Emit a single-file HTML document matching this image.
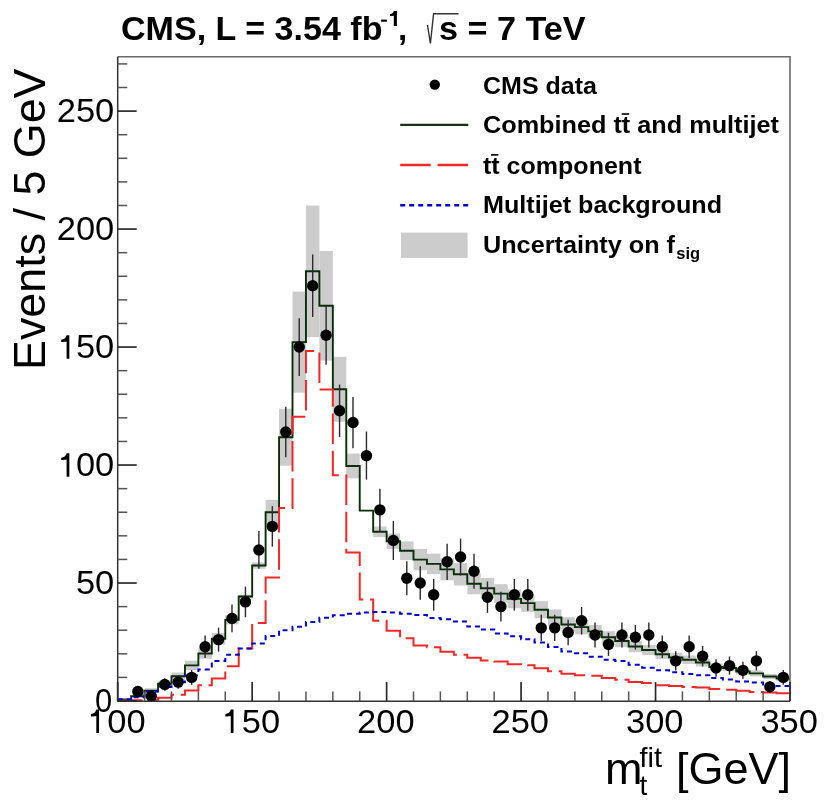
<!DOCTYPE html><html><head><meta charset="utf-8"><style>html,body{margin:0;padding:0;background:#fff;}svg{display:block;}text{font-family:"Liberation Sans",sans-serif;}svg{-webkit-font-smoothing:antialiased;will-change:transform;} .tl{}</style></head><body>
<svg width="840" height="806" viewBox="0 0 840 806">
<rect width="840" height="806" fill="#fff"/>
<rect x="117.70" y="698.99" width="13.45" height="0.71" fill="#cccccc"/>
<rect x="131.15" y="695.37" width="13.45" height="1.82" fill="#cccccc"/>
<rect x="144.59" y="688.20" width="13.45" height="4.84" fill="#cccccc"/>
<rect x="158.04" y="680.60" width="13.45" height="6.35" fill="#cccccc"/>
<rect x="171.48" y="672.47" width="13.45" height="7.51" fill="#cccccc"/>
<rect x="184.93" y="660.72" width="13.45" height="9.30" fill="#cccccc"/>
<rect x="198.38" y="648.47" width="13.45" height="10.21" fill="#cccccc"/>
<rect x="211.82" y="632.90" width="13.45" height="11.62" fill="#cccccc"/>
<rect x="225.27" y="615.29" width="13.45" height="9.08" fill="#cccccc"/>
<rect x="238.71" y="594.63" width="13.45" height="3.67" fill="#cccccc"/>
<rect x="252.16" y="562.37" width="13.45" height="6.37" fill="#cccccc"/>
<rect x="265.61" y="499.75" width="13.45" height="24.96" fill="#cccccc"/>
<rect x="279.05" y="408.73" width="13.45" height="56.93" fill="#cccccc"/>
<rect x="292.50" y="291.55" width="13.45" height="101.12" fill="#cccccc"/>
<rect x="305.94" y="205.52" width="13.45" height="131.60" fill="#cccccc"/>
<rect x="319.39" y="250.92" width="13.45" height="109.69" fill="#cccccc"/>
<rect x="332.84" y="356.81" width="13.45" height="64.97" fill="#cccccc"/>
<rect x="346.28" y="453.56" width="13.45" height="24.84" fill="#cccccc"/>
<rect x="359.73" y="510.38" width="13.45" height="0.39" fill="#cccccc"/>
<rect x="373.17" y="526.50" width="13.45" height="10.63" fill="#cccccc"/>
<rect x="386.62" y="533.57" width="13.45" height="15.37" fill="#cccccc"/>
<rect x="400.07" y="541.44" width="13.45" height="18.52" fill="#cccccc"/>
<rect x="413.51" y="548.96" width="13.45" height="21.40" fill="#cccccc"/>
<rect x="426.96" y="553.60" width="13.45" height="20.61" fill="#cccccc"/>
<rect x="440.40" y="558.30" width="13.45" height="22.06" fill="#cccccc"/>
<rect x="453.85" y="563.09" width="13.45" height="22.39" fill="#cccccc"/>
<rect x="467.30" y="573.18" width="13.45" height="21.09" fill="#cccccc"/>
<rect x="480.74" y="577.89" width="13.45" height="20.64" fill="#cccccc"/>
<rect x="494.19" y="584.18" width="13.45" height="18.92" fill="#cccccc"/>
<rect x="507.63" y="589.53" width="13.45" height="18.61" fill="#cccccc"/>
<rect x="521.08" y="594.29" width="13.45" height="17.57" fill="#cccccc"/>
<rect x="534.53" y="601.13" width="13.45" height="17.10" fill="#cccccc"/>
<rect x="547.97" y="609.43" width="13.45" height="16.07" fill="#cccccc"/>
<rect x="561.42" y="617.21" width="13.45" height="14.69" fill="#cccccc"/>
<rect x="574.86" y="619.93" width="13.45" height="14.44" fill="#cccccc"/>
<rect x="588.31" y="625.01" width="13.45" height="12.77" fill="#cccccc"/>
<rect x="601.76" y="631.19" width="13.45" height="12.20" fill="#cccccc"/>
<rect x="615.20" y="634.89" width="13.45" height="12.36" fill="#cccccc"/>
<rect x="628.65" y="640.81" width="13.45" height="11.38" fill="#cccccc"/>
<rect x="642.09" y="644.99" width="13.45" height="10.09" fill="#cccccc"/>
<rect x="655.54" y="649.45" width="13.45" height="9.67" fill="#cccccc"/>
<rect x="668.99" y="652.88" width="13.45" height="8.94" fill="#cccccc"/>
<rect x="682.43" y="655.48" width="13.45" height="8.45" fill="#cccccc"/>
<rect x="695.88" y="658.54" width="13.45" height="8.01" fill="#cccccc"/>
<rect x="709.32" y="663.48" width="13.45" height="7.09" fill="#cccccc"/>
<rect x="722.77" y="664.65" width="13.45" height="6.63" fill="#cccccc"/>
<rect x="736.22" y="668.43" width="13.45" height="6.14" fill="#cccccc"/>
<rect x="749.66" y="670.36" width="13.45" height="6.06" fill="#cccccc"/>
<rect x="763.11" y="673.85" width="13.45" height="5.21" fill="#cccccc"/>
<rect x="776.55" y="676.21" width="13.45" height="4.76" fill="#cccccc"/>
<path d="M117.70,699.35 L131.15,699.35 L131.15,696.28 L144.59,696.28 L144.59,690.62 L158.04,690.62 L158.04,683.77 L171.48,683.77 L171.48,676.22 L184.93,676.22 L184.93,665.37 L198.38,665.37 L198.38,653.57 L211.82,653.57 L211.82,638.71 L225.27,638.71 L225.27,619.83 L238.71,619.83 L238.71,596.47 L252.16,596.47 L252.16,565.56 L265.61,565.56 L265.61,512.23 L279.05,512.23 L279.05,437.20 L292.50,437.20 L292.50,342.10 L305.94,342.10 L305.94,271.32 L319.39,271.32 L319.39,305.77 L332.84,305.77 L332.84,389.30 L346.28,389.30 L346.28,465.98 L359.73,465.98 L359.73,510.58 L373.17,510.58 L373.17,531.82 L386.62,531.82 L386.62,541.26 L400.07,541.26 L400.07,550.69 L413.51,550.69 L413.51,559.66 L426.96,559.66 L426.96,563.91 L440.40,563.91 L440.40,569.33 L453.85,569.33 L453.85,574.29 L467.30,574.29 L467.30,583.73 L480.74,583.73 L480.74,588.21 L494.19,588.21 L494.19,593.64 L507.63,593.64 L507.63,598.83 L521.08,598.83 L521.08,603.08 L534.53,603.08 L534.53,609.68 L547.97,609.68 L547.97,617.47 L561.42,617.47 L561.42,624.55 L574.86,624.55 L574.86,627.14 L588.31,627.14 L588.31,631.39 L601.76,631.39 L601.76,637.29 L615.20,637.29 L615.20,641.07 L628.65,641.07 L628.65,646.49 L642.09,646.49 L642.09,650.03 L655.54,650.03 L655.54,654.28 L668.99,654.28 L668.99,657.35 L682.43,657.35 L682.43,659.71 L695.88,659.71 L695.88,662.54 L709.32,662.54 L709.32,667.02 L722.77,667.02 L722.77,667.97 L736.22,667.97 L736.22,671.50 L749.66,671.50 L749.66,673.39 L763.11,673.39 L763.11,676.46 L776.55,676.46 L776.55,678.58 L790.00,678.58" fill="none" stroke="#0a2e0a" stroke-width="1.9"/>
<path d="M117.70,700.53 L131.15,700.53 L131.15,700.29 L144.59,700.29 L144.59,699.82 L158.04,699.82 L158.04,697.70 L171.48,697.70 L171.48,694.63 L184.93,694.63 L184.93,690.38 L198.38,690.38 L198.38,685.19 L211.82,685.19 L211.82,678.58 L225.27,678.58 L225.27,666.31 L238.71,666.31 L238.71,648.38 L252.16,648.38 L252.16,622.90 L265.61,622.90 L265.61,577.59 L279.05,577.59 L279.05,507.98 L292.50,507.98 L292.50,416.67 L305.94,416.67 L305.94,351.07 L319.39,351.07 L319.39,389.53 L332.84,389.53 L332.84,475.19 L346.28,475.19 L346.28,552.58 L359.73,552.58 L359.73,599.54 L373.17,599.54 L373.17,620.77 L386.62,620.77 L386.62,630.68 L400.07,630.68 L400.07,638.23 L413.51,638.23 L413.51,645.55 L426.96,645.55 L426.96,647.20 L440.40,647.20 L440.40,651.68 L453.85,651.68 L453.85,654.75 L467.30,654.75 L467.30,657.82 L480.74,657.82 L480.74,660.41 L494.19,660.41 L494.19,661.59 L507.63,661.59 L507.63,664.19 L521.08,664.19 L521.08,665.37 L534.53,665.37 L534.53,668.20 L547.97,668.20 L547.97,671.27 L561.42,671.27 L561.42,673.63 L574.86,673.63 L574.86,675.28 L588.31,675.28 L588.31,675.75 L601.76,675.75 L601.76,678.11 L615.20,678.11 L615.20,679.76 L628.65,679.76 L628.65,682.12 L642.09,682.12 L642.09,683.07 L655.54,683.07 L655.54,685.19 L668.99,685.19 L668.99,685.90 L682.43,685.90 L682.43,687.08 L695.88,687.08 L695.88,687.55 L709.32,687.55 L709.32,688.97 L722.77,688.97 L722.77,689.67 L736.22,689.67 L736.22,690.85 L749.66,690.85 L749.66,692.03 L763.11,692.03 L763.11,692.51 L776.55,692.51 L776.55,693.21 L790.00,693.21" fill="none" stroke="#f02828" stroke-width="2" stroke-dasharray="30.5,6.7" stroke-dashoffset="5.4"/>
<path d="M117.70,699.35 L131.15,699.35 L131.15,697.22 L144.59,697.22 L144.59,691.56 L158.04,691.56 L158.04,687.08 L171.48,687.08 L171.48,682.36 L184.93,682.36 L184.93,675.52 L198.38,675.52 L198.38,669.38 L211.82,669.38 L211.82,661.12 L225.27,661.12 L225.27,654.75 L238.71,654.75 L238.71,648.38 L252.16,648.38 L252.16,643.43 L265.61,643.43 L265.61,635.88 L279.05,635.88 L279.05,630.21 L292.50,630.21 L292.50,626.67 L305.94,626.67 L305.94,621.95 L319.39,621.95 L319.39,617.71 L332.84,617.71 L332.84,615.35 L346.28,615.35 L346.28,613.69 L359.73,613.69 L359.73,612.51 L373.17,612.51 L373.17,612.04 L386.62,612.04 L386.62,612.51 L400.07,612.51 L400.07,613.69 L413.51,613.69 L413.51,615.11 L426.96,615.11 L426.96,617.94 L440.40,617.94 L440.40,619.36 L453.85,619.36 L453.85,621.48 L467.30,621.48 L467.30,626.44 L480.74,626.44 L480.74,629.50 L494.19,629.50 L494.19,633.52 L507.63,633.52 L507.63,636.35 L521.08,636.35 L521.08,639.18 L534.53,639.18 L534.53,642.48 L547.97,642.48 L547.97,646.97 L561.42,646.97 L561.42,651.45 L574.86,651.45 L574.86,653.34 L588.31,653.34 L588.31,656.64 L601.76,656.64 L601.76,659.71 L615.20,659.71 L615.20,660.89 L628.65,660.89 L628.65,664.66 L642.09,664.66 L642.09,667.73 L655.54,667.73 L655.54,670.33 L668.99,670.33 L668.99,672.21 L682.43,672.21 L682.43,674.10 L695.88,674.10 L695.88,675.28 L709.32,675.28 L709.32,678.11 L722.77,678.11 L722.77,679.53 L736.22,679.53 L736.22,681.42 L749.66,681.42 L749.66,682.60 L763.11,682.60 L763.11,684.48 L776.55,684.48 L776.55,685.90 L790.00,685.90" fill="none" stroke="#0000d0" stroke-width="2" stroke-dasharray="5,4"/>
<line x1="137.87" y1="686.84" x2="137.87" y2="696.28" stroke="#2a2a2a" stroke-width="1.4"/>
<circle cx="137.87" cy="691.56" r="5.7" fill="#000"/>
<line x1="151.31" y1="692.94" x2="151.31" y2="699.62" stroke="#2a2a2a" stroke-width="1.4"/>
<circle cx="151.31" cy="696.28" r="5.7" fill="#000"/>
<line x1="164.76" y1="678.24" x2="164.76" y2="690.73" stroke="#2a2a2a" stroke-width="1.4"/>
<circle cx="164.76" cy="684.48" r="5.7" fill="#000"/>
<line x1="178.21" y1="675.45" x2="178.21" y2="688.80" stroke="#2a2a2a" stroke-width="1.4"/>
<circle cx="178.21" cy="682.12" r="5.7" fill="#000"/>
<line x1="191.65" y1="669.94" x2="191.65" y2="684.87" stroke="#2a2a2a" stroke-width="1.4"/>
<circle cx="191.65" cy="677.40" r="5.7" fill="#000"/>
<line x1="205.10" y1="635.41" x2="205.10" y2="658.05" stroke="#2a2a2a" stroke-width="1.4"/>
<circle cx="205.10" cy="646.73" r="5.7" fill="#000"/>
<line x1="218.55" y1="627.62" x2="218.55" y2="651.68" stroke="#2a2a2a" stroke-width="1.4"/>
<circle cx="218.55" cy="639.65" r="5.7" fill="#000"/>
<line x1="231.99" y1="604.45" x2="231.99" y2="632.37" stroke="#2a2a2a" stroke-width="1.4"/>
<circle cx="231.99" cy="618.41" r="5.7" fill="#000"/>
<line x1="245.44" y1="586.60" x2="245.44" y2="617.19" stroke="#2a2a2a" stroke-width="1.4"/>
<circle cx="245.44" cy="601.90" r="5.7" fill="#000"/>
<line x1="258.88" y1="531.11" x2="258.88" y2="568.86" stroke="#2a2a2a" stroke-width="1.4"/>
<circle cx="258.88" cy="549.99" r="5.7" fill="#000"/>
<line x1="272.33" y1="506.09" x2="272.33" y2="546.69" stroke="#2a2a2a" stroke-width="1.4"/>
<circle cx="272.33" cy="526.39" r="5.7" fill="#000"/>
<line x1="285.77" y1="406.81" x2="285.77" y2="457.20" stroke="#2a2a2a" stroke-width="1.4"/>
<circle cx="285.77" cy="432.01" r="5.7" fill="#000"/>
<line x1="299.22" y1="318.16" x2="299.22" y2="375.96" stroke="#2a2a2a" stroke-width="1.4"/>
<circle cx="299.22" cy="347.06" r="5.7" fill="#000"/>
<line x1="312.67" y1="254.41" x2="312.67" y2="317.01" stroke="#2a2a2a" stroke-width="1.4"/>
<circle cx="312.67" cy="285.71" r="5.7" fill="#000"/>
<line x1="326.11" y1="305.89" x2="326.11" y2="364.64" stroke="#2a2a2a" stroke-width="1.4"/>
<circle cx="326.11" cy="335.26" r="5.7" fill="#000"/>
<line x1="339.56" y1="384.60" x2="339.56" y2="436.94" stroke="#2a2a2a" stroke-width="1.4"/>
<circle cx="339.56" cy="410.77" r="5.7" fill="#000"/>
<line x1="353.00" y1="396.94" x2="353.00" y2="448.20" stroke="#2a2a2a" stroke-width="1.4"/>
<circle cx="353.00" cy="422.57" r="5.7" fill="#000"/>
<line x1="366.45" y1="431.54" x2="366.45" y2="479.66" stroke="#2a2a2a" stroke-width="1.4"/>
<circle cx="366.45" cy="455.60" r="5.7" fill="#000"/>
<line x1="379.90" y1="488.64" x2="379.90" y2="531.11" stroke="#2a2a2a" stroke-width="1.4"/>
<circle cx="379.90" cy="509.87" r="5.7" fill="#000"/>
<line x1="393.34" y1="521.09" x2="393.34" y2="560.00" stroke="#2a2a2a" stroke-width="1.4"/>
<circle cx="393.34" cy="540.55" r="5.7" fill="#000"/>
<line x1="406.79" y1="561.29" x2="406.79" y2="595.32" stroke="#2a2a2a" stroke-width="1.4"/>
<circle cx="406.79" cy="578.30" r="5.7" fill="#000"/>
<line x1="420.24" y1="566.34" x2="420.24" y2="599.70" stroke="#2a2a2a" stroke-width="1.4"/>
<circle cx="420.24" cy="583.02" r="5.7" fill="#000"/>
<line x1="433.68" y1="578.99" x2="433.68" y2="610.65" stroke="#2a2a2a" stroke-width="1.4"/>
<circle cx="433.68" cy="594.82" r="5.7" fill="#000"/>
<line x1="447.13" y1="543.66" x2="447.13" y2="579.91" stroke="#2a2a2a" stroke-width="1.4"/>
<circle cx="447.13" cy="561.78" r="5.7" fill="#000"/>
<line x1="460.57" y1="538.64" x2="460.57" y2="575.49" stroke="#2a2a2a" stroke-width="1.4"/>
<circle cx="460.57" cy="557.06" r="5.7" fill="#000"/>
<line x1="474.02" y1="553.72" x2="474.02" y2="588.72" stroke="#2a2a2a" stroke-width="1.4"/>
<circle cx="474.02" cy="571.22" r="5.7" fill="#000"/>
<line x1="487.46" y1="581.53" x2="487.46" y2="612.83" stroke="#2a2a2a" stroke-width="1.4"/>
<circle cx="487.46" cy="597.18" r="5.7" fill="#000"/>
<line x1="500.91" y1="591.69" x2="500.91" y2="621.54" stroke="#2a2a2a" stroke-width="1.4"/>
<circle cx="500.91" cy="606.62" r="5.7" fill="#000"/>
<line x1="514.36" y1="578.99" x2="514.36" y2="610.65" stroke="#2a2a2a" stroke-width="1.4"/>
<circle cx="514.36" cy="594.82" r="5.7" fill="#000"/>
<line x1="527.80" y1="578.99" x2="527.80" y2="610.65" stroke="#2a2a2a" stroke-width="1.4"/>
<circle cx="527.80" cy="594.82" r="5.7" fill="#000"/>
<line x1="541.25" y1="614.71" x2="541.25" y2="640.99" stroke="#2a2a2a" stroke-width="1.4"/>
<circle cx="541.25" cy="627.85" r="5.7" fill="#000"/>
<line x1="554.70" y1="614.71" x2="554.70" y2="640.99" stroke="#2a2a2a" stroke-width="1.4"/>
<circle cx="554.70" cy="627.85" r="5.7" fill="#000"/>
<line x1="568.14" y1="619.86" x2="568.14" y2="645.28" stroke="#2a2a2a" stroke-width="1.4"/>
<circle cx="568.14" cy="632.57" r="5.7" fill="#000"/>
<line x1="581.59" y1="607.01" x2="581.59" y2="634.53" stroke="#2a2a2a" stroke-width="1.4"/>
<circle cx="581.59" cy="620.77" r="5.7" fill="#000"/>
<line x1="595.03" y1="622.45" x2="595.03" y2="647.42" stroke="#2a2a2a" stroke-width="1.4"/>
<circle cx="595.03" cy="634.93" r="5.7" fill="#000"/>
<line x1="608.48" y1="632.81" x2="608.48" y2="655.93" stroke="#2a2a2a" stroke-width="1.4"/>
<circle cx="608.48" cy="644.37" r="5.7" fill="#000"/>
<line x1="621.93" y1="622.45" x2="621.93" y2="647.42" stroke="#2a2a2a" stroke-width="1.4"/>
<circle cx="621.93" cy="634.93" r="5.7" fill="#000"/>
<line x1="635.37" y1="625.03" x2="635.37" y2="649.55" stroke="#2a2a2a" stroke-width="1.4"/>
<circle cx="635.37" cy="637.29" r="5.7" fill="#000"/>
<line x1="648.82" y1="622.45" x2="648.82" y2="647.42" stroke="#2a2a2a" stroke-width="1.4"/>
<circle cx="648.82" cy="634.93" r="5.7" fill="#000"/>
<line x1="662.26" y1="635.41" x2="662.26" y2="658.05" stroke="#2a2a2a" stroke-width="1.4"/>
<circle cx="662.26" cy="646.73" r="5.7" fill="#000"/>
<line x1="675.71" y1="651.16" x2="675.71" y2="670.62" stroke="#2a2a2a" stroke-width="1.4"/>
<circle cx="675.71" cy="660.89" r="5.7" fill="#000"/>
<line x1="689.16" y1="635.41" x2="689.16" y2="658.05" stroke="#2a2a2a" stroke-width="1.4"/>
<circle cx="689.16" cy="646.73" r="5.7" fill="#000"/>
<line x1="702.60" y1="645.88" x2="702.60" y2="666.45" stroke="#2a2a2a" stroke-width="1.4"/>
<circle cx="702.60" cy="656.17" r="5.7" fill="#000"/>
<line x1="716.05" y1="659.14" x2="716.05" y2="676.79" stroke="#2a2a2a" stroke-width="1.4"/>
<circle cx="716.05" cy="667.97" r="5.7" fill="#000"/>
<line x1="729.49" y1="656.47" x2="729.49" y2="674.74" stroke="#2a2a2a" stroke-width="1.4"/>
<circle cx="729.49" cy="665.61" r="5.7" fill="#000"/>
<line x1="742.94" y1="661.82" x2="742.94" y2="678.83" stroke="#2a2a2a" stroke-width="1.4"/>
<circle cx="742.94" cy="670.33" r="5.7" fill="#000"/>
<line x1="756.39" y1="651.16" x2="756.39" y2="670.62" stroke="#2a2a2a" stroke-width="1.4"/>
<circle cx="756.39" cy="660.89" r="5.7" fill="#000"/>
<line x1="769.83" y1="681.06" x2="769.83" y2="692.62" stroke="#2a2a2a" stroke-width="1.4"/>
<circle cx="769.83" cy="686.84" r="5.7" fill="#000"/>
<line x1="783.28" y1="669.94" x2="783.28" y2="684.87" stroke="#2a2a2a" stroke-width="1.4"/>
<circle cx="783.28" cy="677.40" r="5.7" fill="#000"/>
<path d="M117.7,56.7 L790,56.7 L790,701.2" fill="none" stroke="#6a6a6a" stroke-width="1.6"/>
<path d="M790,701.2 L117.7,701.2 L117.7,56.7" fill="none" stroke="#333" stroke-width="1.5"/>
<line x1="117.7" y1="701.00" x2="136.7" y2="701.00" stroke="#2a2a2a" stroke-width="1.7"/>
<line x1="117.7" y1="677.40" x2="127.3" y2="677.40" stroke="#555" stroke-width="1.5"/>
<line x1="117.7" y1="653.81" x2="127.3" y2="653.81" stroke="#555" stroke-width="1.5"/>
<line x1="117.7" y1="630.21" x2="127.3" y2="630.21" stroke="#555" stroke-width="1.5"/>
<line x1="117.7" y1="606.62" x2="127.3" y2="606.62" stroke="#555" stroke-width="1.5"/>
<line x1="117.7" y1="583.02" x2="136.7" y2="583.02" stroke="#2a2a2a" stroke-width="1.7"/>
<line x1="117.7" y1="559.42" x2="127.3" y2="559.42" stroke="#555" stroke-width="1.5"/>
<line x1="117.7" y1="535.83" x2="127.3" y2="535.83" stroke="#555" stroke-width="1.5"/>
<line x1="117.7" y1="512.23" x2="127.3" y2="512.23" stroke="#555" stroke-width="1.5"/>
<line x1="117.7" y1="488.64" x2="127.3" y2="488.64" stroke="#555" stroke-width="1.5"/>
<line x1="117.7" y1="465.04" x2="136.7" y2="465.04" stroke="#2a2a2a" stroke-width="1.7"/>
<line x1="117.7" y1="441.44" x2="127.3" y2="441.44" stroke="#555" stroke-width="1.5"/>
<line x1="117.7" y1="417.85" x2="127.3" y2="417.85" stroke="#555" stroke-width="1.5"/>
<line x1="117.7" y1="394.25" x2="127.3" y2="394.25" stroke="#555" stroke-width="1.5"/>
<line x1="117.7" y1="370.66" x2="127.3" y2="370.66" stroke="#555" stroke-width="1.5"/>
<line x1="117.7" y1="347.06" x2="136.7" y2="347.06" stroke="#2a2a2a" stroke-width="1.7"/>
<line x1="117.7" y1="323.46" x2="127.3" y2="323.46" stroke="#555" stroke-width="1.5"/>
<line x1="117.7" y1="299.87" x2="127.3" y2="299.87" stroke="#555" stroke-width="1.5"/>
<line x1="117.7" y1="276.27" x2="127.3" y2="276.27" stroke="#555" stroke-width="1.5"/>
<line x1="117.7" y1="252.68" x2="127.3" y2="252.68" stroke="#555" stroke-width="1.5"/>
<line x1="117.7" y1="229.08" x2="136.7" y2="229.08" stroke="#2a2a2a" stroke-width="1.7"/>
<line x1="117.7" y1="205.48" x2="127.3" y2="205.48" stroke="#555" stroke-width="1.5"/>
<line x1="117.7" y1="181.89" x2="127.3" y2="181.89" stroke="#555" stroke-width="1.5"/>
<line x1="117.7" y1="158.29" x2="127.3" y2="158.29" stroke="#555" stroke-width="1.5"/>
<line x1="117.7" y1="134.70" x2="127.3" y2="134.70" stroke="#555" stroke-width="1.5"/>
<line x1="117.7" y1="111.10" x2="136.7" y2="111.10" stroke="#2a2a2a" stroke-width="1.7"/>
<line x1="117.7" y1="87.50" x2="127.3" y2="87.50" stroke="#555" stroke-width="1.5"/>
<line x1="117.7" y1="63.91" x2="127.3" y2="63.91" stroke="#555" stroke-width="1.5"/>
<line x1="117.70" y1="701.0" x2="117.70" y2="682.0" stroke="#2a2a2a" stroke-width="1.7"/>
<line x1="144.59" y1="701.0" x2="144.59" y2="691.4" stroke="#555" stroke-width="1.5"/>
<line x1="171.48" y1="701.0" x2="171.48" y2="691.4" stroke="#555" stroke-width="1.5"/>
<line x1="198.38" y1="701.0" x2="198.38" y2="691.4" stroke="#555" stroke-width="1.5"/>
<line x1="225.27" y1="701.0" x2="225.27" y2="691.4" stroke="#555" stroke-width="1.5"/>
<line x1="252.16" y1="701.0" x2="252.16" y2="682.0" stroke="#2a2a2a" stroke-width="1.7"/>
<line x1="279.05" y1="701.0" x2="279.05" y2="691.4" stroke="#555" stroke-width="1.5"/>
<line x1="305.94" y1="701.0" x2="305.94" y2="691.4" stroke="#555" stroke-width="1.5"/>
<line x1="332.84" y1="701.0" x2="332.84" y2="691.4" stroke="#555" stroke-width="1.5"/>
<line x1="359.73" y1="701.0" x2="359.73" y2="691.4" stroke="#555" stroke-width="1.5"/>
<line x1="386.62" y1="701.0" x2="386.62" y2="682.0" stroke="#2a2a2a" stroke-width="1.7"/>
<line x1="413.51" y1="701.0" x2="413.51" y2="691.4" stroke="#555" stroke-width="1.5"/>
<line x1="440.40" y1="701.0" x2="440.40" y2="691.4" stroke="#555" stroke-width="1.5"/>
<line x1="467.30" y1="701.0" x2="467.30" y2="691.4" stroke="#555" stroke-width="1.5"/>
<line x1="494.19" y1="701.0" x2="494.19" y2="691.4" stroke="#555" stroke-width="1.5"/>
<line x1="521.08" y1="701.0" x2="521.08" y2="682.0" stroke="#2a2a2a" stroke-width="1.7"/>
<line x1="547.97" y1="701.0" x2="547.97" y2="691.4" stroke="#555" stroke-width="1.5"/>
<line x1="574.86" y1="701.0" x2="574.86" y2="691.4" stroke="#555" stroke-width="1.5"/>
<line x1="601.76" y1="701.0" x2="601.76" y2="691.4" stroke="#555" stroke-width="1.5"/>
<line x1="628.65" y1="701.0" x2="628.65" y2="691.4" stroke="#555" stroke-width="1.5"/>
<line x1="655.54" y1="701.0" x2="655.54" y2="682.0" stroke="#2a2a2a" stroke-width="1.7"/>
<line x1="682.43" y1="701.0" x2="682.43" y2="691.4" stroke="#555" stroke-width="1.5"/>
<line x1="709.32" y1="701.0" x2="709.32" y2="691.4" stroke="#555" stroke-width="1.5"/>
<line x1="736.22" y1="701.0" x2="736.22" y2="691.4" stroke="#555" stroke-width="1.5"/>
<line x1="763.11" y1="701.0" x2="763.11" y2="691.4" stroke="#555" stroke-width="1.5"/>
<line x1="790.00" y1="701.0" x2="790.00" y2="682.0" stroke="#2a2a2a" stroke-width="1.7"/>
<text x="112.2" y="711.60" class="tl" font-size="33" text-anchor="end" textLength="17.2" lengthAdjust="spacingAndGlyphs">0</text>
<text x="114.3" y="593.62" class="tl" font-size="33" text-anchor="end" textLength="38.35" lengthAdjust="spacingAndGlyphs">50</text>
<text x="114.3" y="475.64" class="tl" font-size="33" text-anchor="end" textLength="38.35" lengthAdjust="spacingAndGlyphs">00</text>
<path d="M61.20,457.64 C63.90,457.44 66.20,455.74 66.60,453.14 L69.35,453.14 L69.35,476.74 L66.60,476.74 L66.60,459.54 C64.98,459.84 63.36,459.94 61.20,459.94 Z" fill="#000"/>
<text x="114.3" y="357.66" class="tl" font-size="33" text-anchor="end" textLength="38.35" lengthAdjust="spacingAndGlyphs">50</text>
<path d="M61.20,339.66 C63.90,339.46 66.20,337.76 66.60,335.16 L69.35,335.16 L69.35,358.76 L66.60,358.76 L66.60,341.56 C64.98,341.86 63.36,341.96 61.20,341.96 Z" fill="#000"/>
<text x="114.3" y="239.68" class="tl" font-size="33" text-anchor="end" textLength="57.52" lengthAdjust="spacingAndGlyphs">200</text>
<text x="114.3" y="121.70" class="tl" font-size="33" text-anchor="end" textLength="57.52" lengthAdjust="spacingAndGlyphs">250</text>
<text x="107.31" y="732.6" class="tl" font-size="33" textLength="38.35" lengthAdjust="spacingAndGlyphs">00</text>
<path d="M90.90,714.10 C93.60,713.90 95.90,712.20 96.30,709.60 L99.05,709.60 L99.05,732.90 L96.30,732.90 L96.30,716.00 C94.68,716.30 93.06,716.40 90.90,716.40 Z" fill="#000"/>
<text x="241.77" y="732.6" class="tl" font-size="33" textLength="38.35" lengthAdjust="spacingAndGlyphs">50</text>
<path d="M225.36,714.10 C228.06,713.90 230.36,712.20 230.76,709.60 L233.51,709.60 L233.51,732.90 L230.76,732.90 L230.76,716.00 C229.14,716.30 227.52,716.40 225.36,716.40 Z" fill="#000"/>
<text x="385.82" y="732.6" class="tl" font-size="33" text-anchor="middle" textLength="57.52" lengthAdjust="spacingAndGlyphs">200</text>
<text x="520.28" y="732.6" class="tl" font-size="33" text-anchor="middle" textLength="57.52" lengthAdjust="spacingAndGlyphs">250</text>
<text x="654.74" y="732.6" class="tl" font-size="33" text-anchor="middle" textLength="57.52" lengthAdjust="spacingAndGlyphs">300</text>
<text x="789.20" y="732.6" class="tl" font-size="33" text-anchor="middle" textLength="57.52" lengthAdjust="spacingAndGlyphs">350</text>
<text transform="translate(44.6,370) rotate(-90)" x="0" y="0" font-size="45" textLength="301.5" lengthAdjust="spacingAndGlyphs">Events / 5 GeV</text>
<text x="605" y="784" font-size="45">m</text>
<text x="639.5" y="767" font-size="28" textLength="22.5" lengthAdjust="spacingAndGlyphs">fit</text>
<text x="639.5" y="795" font-size="28">t</text>
<text x="676" y="784" font-size="45">[GeV]</text>
<text x="121" y="40.3" font-size="33" font-weight="bold" textLength="261.5" lengthAdjust="spacingAndGlyphs">CMS, L = 3.54 fb</text>
<rect x="381.1" y="19.6" width="5.8" height="2.1" fill="#000"/>
<path d="M390,14 C391.8,13.9 393.3,12.8 393.8,11 L396.9,11 L396.9,25.9 L393.8,25.9 L393.8,15.7 C392.6,16 391.3,16.1 390,16.1 Z" fill="#000"/>
<text x="398" y="40.3" font-size="33" font-weight="bold">,</text>
<path d="M427.5,25 L430.4,43.5 L433.6,13.8 L458.5,13.8" fill="none" stroke="#333" stroke-width="1.4"/>
<text x="439" y="40.3" font-size="33" font-weight="bold" textLength="146.5" lengthAdjust="spacingAndGlyphs">s = 7 TeV</text>
<text x="483" y="94.2" font-size="23.5" font-weight="bold" textLength="114" lengthAdjust="spacingAndGlyphs">CMS data</text>
<text x="483" y="133.2" font-size="23.5" font-weight="bold" textLength="296" lengthAdjust="spacingAndGlyphs">Combined tt and multijet</text>
<text x="483" y="173.6" font-size="23.5" font-weight="bold" textLength="158.5" lengthAdjust="spacingAndGlyphs">tt component</text>
<text x="483" y="213" font-size="23.5" font-weight="bold" textLength="239" lengthAdjust="spacingAndGlyphs">Multijet background</text>
<text x="483" y="253" font-size="23.5" font-weight="bold" textLength="192" lengthAdjust="spacingAndGlyphs">Uncertainty on f</text>
<text x="676.3" y="259" font-size="16.5" font-weight="bold">sig</text>
<rect x="621.7" y="113.2" width="7.5" height="1.6" fill="#000"/>
<rect x="491" y="154.1" width="7.3" height="1.6" fill="#000"/>
<circle cx="434.8" cy="84.6" r="5.2" fill="#000"/>
<line x1="400.2" y1="124.8" x2="468.3" y2="124.8" stroke="#1a321a" stroke-width="2.2"/>
<line x1="400.2" y1="165" x2="468.3" y2="165" stroke="#f02828" stroke-width="2.4" stroke-dasharray="30.5,6.9"/>
<line x1="400.2" y1="205.3" x2="468.3" y2="205.3" stroke="#0000d0" stroke-width="2.4" stroke-dasharray="5,4"/>
<rect x="401" y="232.6" width="66.6" height="25.3" fill="#cccccc"/>
</svg></body></html>
